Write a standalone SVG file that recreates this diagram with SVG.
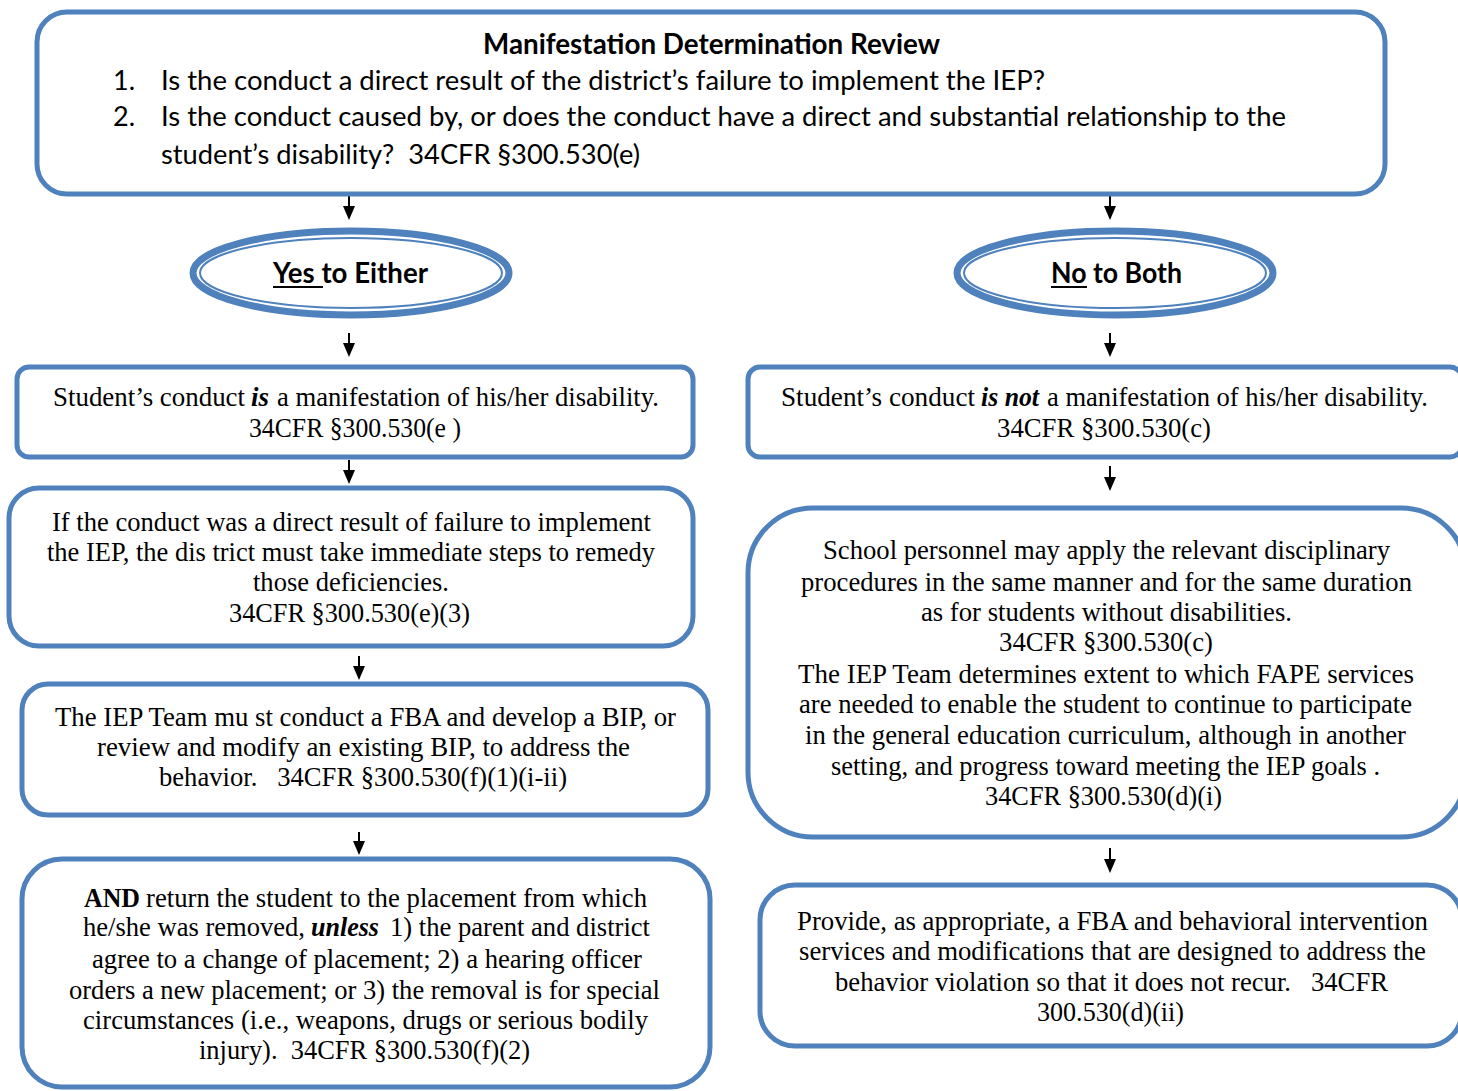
<svg xmlns="http://www.w3.org/2000/svg" width="1458" height="1091" viewBox="0 0 1458 1091">
<defs>
<style>
.box{fill:#fff;stroke:#4F81BD;stroke-width:5}
.ell{fill:#fff;stroke:#4F81BD}
.cal{font-family:Lato,"Liberation Sans",sans-serif;font-size:27px;fill:#000;white-space:pre}
.calb{font-family:Lato,"Liberation Sans",sans-serif;font-size:28px;font-weight:bold;fill:#000;white-space:pre}
.tnr{font-family:"Liberation Serif","Times New Roman",Times,serif;font-size:28px;fill:#000;white-space:pre}
.b{font-weight:bold}
.bi{font-weight:bold;font-style:italic}
.conn{stroke:#000;stroke-width:2;fill:none}
</style>
</defs>
<rect width="1458" height="1091" fill="#fff"/>

<g id="connectors">
<path class="conn" d="M349,196 V206"/><path d="M343,206 L355,206 L349,220 z"/>
<path class="conn" d="M1110,196 V206"/><path d="M1104,206 L1116,206 L1110,220 z"/>
<path class="conn" d="M349,333 V343"/><path d="M343,343 L355,343 L349,357 z"/>
<path class="conn" d="M1110,333 V343"/><path d="M1104,343 L1116,343 L1110,357 z"/>
<path class="conn" d="M349,460 V470"/><path d="M343,470 L355,470 L349,484 z"/>
<path class="conn" d="M1110,466 V477"/><path d="M1104,477 L1116,477 L1110,491 z"/>
<path class="conn" d="M359,656 V666"/><path d="M353,666 L365,666 L359,680 z"/>
<path class="conn" d="M359,832 V841"/><path d="M353,841 L365,841 L359,855 z"/>
<path class="conn" d="M1110,848 V859"/><path d="M1104,859 L1116,859 L1110,873 z"/>
</g>

<g id="review">
<rect class="box" x="37" y="12" width="1348" height="182" rx="30"/>
<text class="calb" x="483" y="54" textLength="457" lengthAdjust="spacingAndGlyphs">Manifestation Determination Review</text>
<text class="cal" x="113" y="90">1.</text>
<text class="cal" x="161" y="90" textLength="884" lengthAdjust="spacingAndGlyphs">Is the conduct a direct result of the district’s failure to implement the IEP?</text>
<text class="cal" x="113" y="126">2.</text>
<text class="cal" x="161" y="126" textLength="1125" lengthAdjust="spacingAndGlyphs">Is the conduct caused by, or does the conduct have a direct and substantial relationship to the</text>
<text class="cal" x="161" y="164" textLength="479" lengthAdjust="spacingAndGlyphs">student’s disability?  34CFR §300.530(e)</text>
</g>

<g id="yes">
<ellipse class="ell" cx="351" cy="273" rx="158" ry="42" stroke-width="7"/>
<ellipse class="ell" cx="351" cy="273" rx="151" ry="35" stroke-width="2"/>
<text class="calb" x="273" y="283" textLength="155" lengthAdjust="spacingAndGlyphs">Yes to Either</text>
<line x1="273" y1="287" x2="323" y2="287" stroke="#000" stroke-width="2"/>
</g>

<g id="no">
<ellipse class="ell" cx="1115" cy="273" rx="158" ry="42" stroke-width="7"/>
<ellipse class="ell" cx="1115" cy="273" rx="151" ry="35" stroke-width="2"/>
<text class="calb" x="1051" y="283" textLength="131" lengthAdjust="spacingAndGlyphs">No to Both</text>
<line x1="1051" y1="287" x2="1087" y2="287" stroke="#000" stroke-width="2"/>
</g>

<g id="is-manifestation">
<rect class="box" x="17" y="367" width="676" height="90" rx="12"/>
<text class="tnr" x="53" y="406" textLength="192" lengthAdjust="spacingAndGlyphs">Student’s conduct</text>
<text class="tnr bi" x="251" y="406" textLength="18" lengthAdjust="spacingAndGlyphs">is</text>
<text class="tnr" x="277" y="406" textLength="382" lengthAdjust="spacingAndGlyphs">a manifestation of his/her disability.</text>
<text class="tnr" x="249" y="437" textLength="212" lengthAdjust="spacingAndGlyphs">34CFR §300.530(e )</text>
</g>

<g id="not-manifestation">
<rect class="box" x="748" y="367" width="714" height="90" rx="12"/>
<text class="tnr" x="781" y="406" textLength="194" lengthAdjust="spacingAndGlyphs">Student’s conduct</text>
<text class="tnr bi" x="981" y="406" textLength="58" lengthAdjust="spacingAndGlyphs">is not</text>
<text class="tnr" x="1047" y="406" textLength="381" lengthAdjust="spacingAndGlyphs">a manifestation of his/her disability.</text>
<text class="tnr" x="997" y="437" textLength="214" lengthAdjust="spacingAndGlyphs">34CFR §300.530(c)</text>
</g>

<g id="remedy">
<rect class="box" x="9" y="488" width="684" height="158" rx="30"/>
<text class="tnr" x="52" y="531" textLength="599" lengthAdjust="spacingAndGlyphs">If the conduct was a direct result of failure to implement</text>
<text class="tnr" x="47" y="561" textLength="608" lengthAdjust="spacingAndGlyphs">the IEP, the dis trict must take immediate steps to remedy</text>
<text class="tnr" x="253" y="591" textLength="196" lengthAdjust="spacingAndGlyphs">those deficiencies.</text>
<text class="tnr" x="229" y="622" textLength="241" lengthAdjust="spacingAndGlyphs">34CFR §300.530(e)(3)</text>
</g>

<g id="fba-bip">
<rect class="box" x="22" y="684" width="686" height="131" rx="26"/>
<text class="tnr" x="55" y="726" textLength="621" lengthAdjust="spacingAndGlyphs">The IEP Team mu st conduct a FBA and develop a BIP, or</text>
<text class="tnr" x="97" y="756" textLength="533" lengthAdjust="spacingAndGlyphs">review and modify an existing BIP, to address the</text>
<text class="tnr" x="159" y="786" textLength="408" lengthAdjust="spacingAndGlyphs">behavior.   34CFR §300.530(f)(1)(i-ii)</text>
</g>

<g id="return-placement">
<rect class="box" x="22" y="859" width="688" height="228" rx="40"/>
<text class="tnr b" x="84" y="907" textLength="56" lengthAdjust="spacingAndGlyphs">AND</text>
<text class="tnr" x="146" y="907" textLength="501" lengthAdjust="spacingAndGlyphs">return the student to the placement from which</text>
<text class="tnr" x="83" y="936" textLength="222" lengthAdjust="spacingAndGlyphs">he/she was removed,</text>
<text class="tnr bi" x="311" y="936" textLength="68" lengthAdjust="spacingAndGlyphs">unless</text>
<text class="tnr" x="390" y="936" textLength="260" lengthAdjust="spacingAndGlyphs">1) the parent and district</text>
<text class="tnr" x="92" y="968" textLength="550" lengthAdjust="spacingAndGlyphs">agree to a change of placement; 2) a hearing officer</text>
<text class="tnr" x="69" y="999" textLength="591" lengthAdjust="spacingAndGlyphs">orders a new placement; or 3) the removal is for special</text>
<text class="tnr" x="83" y="1029" textLength="565" lengthAdjust="spacingAndGlyphs">circumstances (i.e., weapons, drugs or serious bodily</text>
<text class="tnr" x="199" y="1059" textLength="331" lengthAdjust="spacingAndGlyphs">injury).  34CFR §300.530(f)(2)</text>
</g>

<g id="discipline">
<rect class="box" x="748" y="508" width="718" height="329" rx="65"/>
<text class="tnr" x="823" y="559" textLength="567" lengthAdjust="spacingAndGlyphs">School personnel may apply the relevant disciplinary</text>
<text class="tnr" x="801" y="591" textLength="611" lengthAdjust="spacingAndGlyphs">procedures in the same manner and for the same duration</text>
<text class="tnr" x="921" y="621" textLength="371" lengthAdjust="spacingAndGlyphs">as for students without disabilities.</text>
<text class="tnr" x="999" y="651" textLength="214" lengthAdjust="spacingAndGlyphs">34CFR §300.530(c)</text>
<text class="tnr" x="798" y="683" textLength="616" lengthAdjust="spacingAndGlyphs">The IEP Team determines extent to which FAPE services</text>
<text class="tnr" x="799" y="713" textLength="613" lengthAdjust="spacingAndGlyphs">are needed to enable the student to continue to participate</text>
<text class="tnr" x="805" y="744" textLength="601" lengthAdjust="spacingAndGlyphs">in the general education curriculum, although in another</text>
<text class="tnr" x="831" y="775" textLength="549" lengthAdjust="spacingAndGlyphs">setting, and progress toward meeting the IEP goals .</text>
<text class="tnr" x="985" y="805" textLength="237" lengthAdjust="spacingAndGlyphs">34CFR §300.530(d)(i)</text>
</g>

<g id="intervention">
<rect class="box" x="760" y="885" width="702" height="161" rx="35"/>
<text class="tnr" x="797" y="930" textLength="631" lengthAdjust="spacingAndGlyphs">Provide, as appropriate, a FBA and behavioral intervention</text>
<text class="tnr" x="799" y="960" textLength="627" lengthAdjust="spacingAndGlyphs">services and modifications that are designed to address the</text>
<text class="tnr" x="835" y="991" textLength="553" lengthAdjust="spacingAndGlyphs">behavior violation so that it does not recur.   34CFR</text>
<text class="tnr" x="1037" y="1021" textLength="147" lengthAdjust="spacingAndGlyphs">300.530(d)(ii)</text>
</g>
</svg>
